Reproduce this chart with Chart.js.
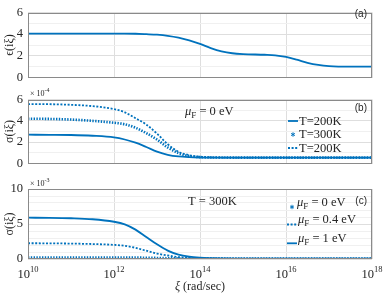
<!DOCTYPE html>
<html>
<head>
<meta charset="utf-8">
<script src="https://cdn.jsdelivr.net/npm/chart.js@4.4.1/dist/chart.umd.min.js"></script>
<style>
  html, body { margin: 0; padding: 0; background: #fff; }
  #wrap { position: relative; width: 390px; height: 295px; overflow: hidden; }
  #wrap canvas { position: absolute; left: 0; }
</style>
</head>
<body>
<div id="wrap">
  <canvas id="chartA" width="390" height="90" style="top:0px"></canvas>
  <canvas id="chartB" width="390" height="90" style="top:86px"></canvas>
  <canvas id="chartC" width="390" height="119" style="top:176px"></canvas>
</div>
<script>
// ---- data ----
const xTickExp = [10, 12, 14, 16, 18];

// panel (a): permittivity at imaginary frequency, log10(xi)
const epsExp = [10, 10.5, 11, 11.5, 12, 12.25, 12.5, 12.75, 13, 13.25, 13.5, 13.75, 14, 14.25, 14.5, 14.75, 15, 15.5, 15.75, 16, 16.25, 16.5, 16.75, 17, 17.5, 18];
const epsVals = [4.05, 4.05, 4.05, 4.05, 4.05, 4.05, 4.04, 4.0, 3.95, 3.85, 3.68, 3.42, 3.1, 2.72, 2.42, 2.24, 2.16, 2.1, 2.05, 1.9, 1.65, 1.36, 1.16, 1.05, 1.0, 1.0];

// panels (b) and (c): conductivity, log10(xi)
const sigExp = [10, 10.5, 11, 11.5, 12, 12.25, 12.5, 12.75, 13, 13.25, 13.5, 13.75, 14, 14.25, 14.5, 15, 16, 17, 18];

// (b) mu_F = 0 eV, units of 1e-4
const sigT200 = [2.7, 2.69, 2.67, 2.6, 2.45, 2.25, 1.95, 1.55, 1.12, 0.82, 0.66, 0.59, 0.56, 0.55, 0.55, 0.55, 0.55, 0.55, 0.55];
const sigT300 = [4.2, 4.18, 4.12, 4.0, 3.82, 3.68, 3.35, 2.85, 2.25, 1.5, 0.98, 0.7, 0.6, 0.57, 0.56, 0.55, 0.55, 0.55, 0.55];
const sigT200b = [5.57, 5.56, 5.5, 5.38, 5.1, 4.8, 4.25, 3.65, 2.8, 1.8, 1.1, 0.78, 0.64, 0.58, 0.56, 0.55, 0.55, 0.55, 0.55];

// (c) T = 300K, units of 1e-3
const sigMu0 = [0.2, 0.2, 0.2, 0.2, 0.2, 0.2, 0.2, 0.18, 0.15, 0.11, 0.08, 0.07, 0.06, 0.06, 0.06, 0.06, 0.06, 0.06, 0.06];
const sigMu04 = [2.25, 2.24, 2.2, 2.14, 2.02, 1.88, 1.6, 1.18, 0.78, 0.5, 0.27, 0.17, 0.12, 0.09, 0.07, 0.06, 0.06, 0.06, 0.06];
const sigMu1 = [5.9, 5.88, 5.82, 5.68, 5.32, 4.95, 4.2, 3.15, 2.1, 1.2, 0.62, 0.33, 0.19, 0.12, 0.08, 0.06, 0.06, 0.06, 0.06];

// ---- styles ----
const SERIF = "'Liberation Serif', 'Times New Roman', serif";
const SANS = "'Liberation Sans', Arial, sans-serif";
const BLUE = "#0072BD";
const INK = "#262626";

const lineStyles = {
  solid: { borderWidth: 1.8, borderDash: [] },
  star: { borderWidth: 2.6, borderDash: [1.4, 1.4] },
  dotted: { borderWidth: 1.8, borderDash: [2, 1.6] }
};

function pts(exps, vals) {
  return exps.map((e, i) => ({ x: Math.pow(10, e), y: vals[i] }));
}

function series(exps, vals, style) {
  return Object.assign({
    data: pts(exps, vals),
    borderColor: BLUE,
    pointRadius: 0,
    fill: false,
    cubicInterpolationMode: "monotone"
  }, lineStyles[style]);
}

// draw a row of text runs (for sub/superscripts)
function drawRuns(ctx, x, y, runs, align) {
  let total = 0;
  runs.forEach(r => {
    ctx.font = `${r.style || ""} ${r.size}px ${r.family || SERIF}`;
    r.w = ctx.measureText(r.t).width;
    total += r.w;
  });
  let cx = align === "center" ? x - total / 2 : align === "right" ? x - total : x;
  ctx.textAlign = "left";
  ctx.textBaseline = "alphabetic";
  runs.forEach(r => {
    ctx.font = `${r.style || ""} ${r.size}px ${r.family || SERIF}`;
    ctx.fillText(r.t, cx, y + (r.dy || 0));
    cx += r.w;
  });
}

function muRuns(rest) {
  return [
    { t: "μ", size: 12.5, style: "italic" },
    { t: "F", size: 9, dy: 3 },
    { t: rest, size: 12.5 }
  ];
}

// box, labels and legends drawn on top of each panel
const panelDecor = {
  id: "panelDecor",
  afterDraw(chart, args, opts) {
    const ctx = chart.ctx;
    const a = chart.chartArea;
    const off = opts.top || 0;
    ctx.save();
    ctx.strokeStyle = "#8a8a8a";
    ctx.lineWidth = 1;
    ctx.strokeRect(Math.round(a.left) + 0.5, Math.round(a.top) + 0.5,
      Math.round(a.right - a.left) - 1, Math.round(a.bottom - a.top) - 1);
    ctx.fillStyle = INK;

    (opts.texts || []).forEach(t => drawRuns(ctx, t.x, t.y - off, t.runs, t.align));

    (opts.legend || []).forEach(item => {
      const y = item.ly - off;
      ctx.strokeStyle = BLUE;
      if (item.style === "star") {
        const cxp = (item.x0 + item.x1) / 2;
        ctx.lineWidth = 1;
        ctx.setLineDash([]);
        ctx.beginPath();
        for (let k = 0; k < 3; k++) {
          const ang = k * Math.PI / 3 + Math.PI / 2;
          ctx.moveTo(cxp - 2.2 * Math.cos(ang), y - 2.2 * Math.sin(ang));
          ctx.lineTo(cxp + 2.2 * Math.cos(ang), y + 2.2 * Math.sin(ang));
        }
        ctx.stroke();
      } else {
        ctx.lineWidth = lineStyles[item.style].borderWidth;
        ctx.setLineDash(lineStyles[item.style].borderDash);
        ctx.beginPath();
        ctx.moveTo(item.x0, y);
        ctx.lineTo(item.x1, y);
        ctx.stroke();
        ctx.setLineDash([]);
      }
      ctx.fillStyle = INK;
      drawRuns(ctx, item.tx, item.ty - off, item.runs, "left");
    });

    if (opts.xLabels) {
      const xs = chart.scales.x;
      xTickExp.forEach(e => {
        const px = xs.getPixelForValue(Math.pow(10, e));
        drawRuns(ctx, px, 277.5 - off, [
          { t: "10", size: 12.5 },
          { t: String(e), size: 8.5, dy: -6 }
        ], "center");
      });
      drawRuns(ctx, 200, 290 - off, [
        { t: "ξ", size: 12, style: "italic" },
        { t: " (rad/sec)", size: 12 }
      ], "center");
    }
    ctx.restore();
  }
};

function makePanel(id, cfg) {
  return new Chart(document.getElementById(id), {
    type: "line",
    data: { datasets: cfg.datasets },
    plugins: [panelDecor],
    options: {
      responsive: false,
      animation: false,
      layout: { padding: { top: cfg.padTop, bottom: cfg.padBottom, left: 0, right: 18 } },
      plugins: {
        legend: { display: false },
        tooltip: { enabled: false },
        panelDecor: { top: cfg.top, texts: cfg.texts, legend: cfg.legend, xLabels: cfg.xLabels }
      },
      scales: {
        x: {
          type: "logarithmic",
          min: 1e10,
          max: 1e18,
          afterBuildTicks: s => { s.ticks = xTickExp.map(e => ({ value: Math.pow(10, e) })); },
          afterFit: s => { s.height = cfg.xHeight; },
          ticks: { display: false },
          border: { display: false },
          grid: { color: "#dedede", drawTicks: false, lineWidth: 1 }
        },
        y: {
          min: 0,
          max: cfg.yMax,
          afterBuildTicks: s => { s.ticks = cfg.yGrid.map(v => ({ value: v })); },
          afterFit: s => { s.width = 28; },
          border: { display: false },
          grid: {
            drawTicks: false,
            color: c => (cfg.yLabels.includes(c.tick.value) ? "#dedede" : "#f0f0f0")
          },
          ticks: {
            autoSkip: false,
            padding: 5,
            color: INK,
            font: { family: SERIF, size: 12.5 },
            callback: v => (cfg.yLabels.includes(v) ? String(v) : "")
          },
          title: {
            display: true,
            text: cfg.yTitle,
            color: INK,
            padding: { top: 3, bottom: 0 },
            font: { family: SERIF, size: 12 }
          }
        }
      }
    }
  });
}

makePanel("chartA", {
  top: 0, padTop: 8, padBottom: 7, xHeight: 0, yMax: 6,
  yGrid: [0, 1, 2, 3, 4, 5, 6], yLabels: [0, 2, 4, 6], yTitle: "ϵ(iξ)",
  datasets: [series(epsExp, epsVals, "solid")],
  texts: [{ x: 367, y: 17, align: "right", runs: [{ t: "(a)", size: 10, family: SANS }] }]
});

makePanel("chartB", {
  top: 86, padTop: 13.5, padBottom: 3, xHeight: 0, yMax: 6,
  yGrid: [0, 1, 2, 3, 4, 5, 6], yLabels: [0, 2, 4, 6], yTitle: "σ(iξ)",
  datasets: [
    series(sigExp, sigT200, "solid"),
    series(sigExp, sigT300, "star"),
    series(sigExp, sigT200b, "dotted")
  ],
  texts: [
    { x: 367, y: 111, align: "right", runs: [{ t: "(b)", size: 10, family: SANS }] },
    { x: 185, y: 115, align: "left", runs: muRuns(" = 0 eV") },
    { x: 30, y: 96, align: "left", runs: [{ t: "× 10", size: 8 }, { t: "-4", size: 6, dy: -4 }] }
  ],
  legend: [
    { style: "solid", x0: 288, x1: 298, ly: 121, tx: 299, ty: 125, runs: [{ t: "T=200K", size: 12.5 }] },
    { style: "star", x0: 288, x1: 298, ly: 134.5, tx: 299, ty: 138, runs: [{ t: "T=300K", size: 12.5 }] },
    { style: "dotted", x0: 288, x1: 298, ly: 148, tx: 299, ty: 151.5, runs: [{ t: "T=200K", size: 12.5 }] }
  ]
});

makePanel("chartC", {
  top: 176, padTop: 13, padBottom: 0, xHeight: 36, yMax: 10,
  yGrid: [0, 1, 2, 3, 4, 5, 6, 7, 8, 9, 10], yLabels: [0, 5, 10], yTitle: "σ(iξ)",
  datasets: [
    series(sigExp, sigMu0, "star"),
    series(sigExp, sigMu04, "dotted"),
    series(sigExp, sigMu1, "solid")
  ],
  texts: [
    { x: 367, y: 204, align: "right", runs: [{ t: "(c)", size: 10, family: SANS }] },
    { x: 188, y: 205, align: "left", runs: [{ t: "T = 300K", size: 12.5 }] },
    { x: 30, y: 185.5, align: "left", runs: [{ t: "× 10", size: 8 }, { t: "-3", size: 6, dy: -4 }] }
  ],
  legend: [
    { style: "star", x0: 287, x1: 297, ly: 207, tx: 297, ty: 205.5, runs: muRuns(" = 0 eV") },
    { style: "dotted", x0: 287, x1: 297, ly: 224.5, tx: 298, ty: 223, runs: muRuns(" = 0.4 eV") },
    { style: "solid", x0: 287, x1: 297, ly: 243.3, tx: 298, ty: 242, runs: muRuns(" = 1 eV") }
  ],
  xLabels: true
});
</script>
</body>
</html>
